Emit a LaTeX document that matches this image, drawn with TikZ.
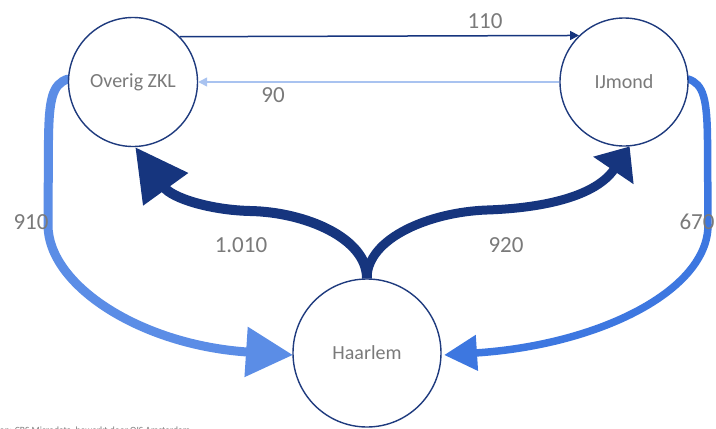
\documentclass[tikz,border=0pt]{standalone}
\usepackage{fontspec}
\setmainfont{Carlito}
\usetikzlibrary{arrows.meta}
\definecolor{navy}{HTML}{16357E}
\definecolor{ringblue}{HTML}{1F3B7E}
\definecolor{paleblue}{HTML}{A9C3F0}
\definecolor{midblue}{HTML}{5B8DE6}
\definecolor{brightblue}{HTML}{3D77E0}
\definecolor{labelgray}{HTML}{7A7A7A}
\tikzset{
  region/.style={circle, draw=ringblue, line width=1.4pt, inner sep=0pt, fill=white,
    text=labelgray, font=\fontsize{20}{24}\selectfont},
  flowlabel/.style={anchor=base, text=labelgray, inner sep=0pt, font=\fontsize{23}{27}\selectfont},
  thinflow/.style={line width=1.5pt},
}
\begin{document}
\begin{tikzpicture}[x=1pt,y=-1pt]
\useasboundingbox (0,0) rectangle (716,429);
\clip (0,0) rectangle (716,429);
\fill[white] (0,0) rectangle (716,429);

% source line (cut off at the bottom edge)
\node[anchor=base west, inner sep=0pt, text=labelgray, font=\fontsize{9.5}{11}\selectfont] (src) at (-9,433.5) {Bron: CBS Microdata, bewerkt door OIS Amsterdam};

% side flows
\draw[line width=9pt, draw=midblue, line cap=round, -{Triangle[length=47pt,width=48pt]}]
  (68,79) .. controls (52,84) and (49,100) .. (48.5,140) -- (48,225)
  .. controls (48,285) and (140,345) .. (293,355) coordinate (e910);
\draw[line width=7.5pt, draw=brightblue, line cap=round, -{Triangle[length=33pt,width=34pt]}]
  (688,79) .. controls (704,84) and (707,100) .. (707.5,140) -- (708,225)
  .. controls (708,290) and (600,345) .. (444,355) coordinate (e670);

% nodes
\node[region, minimum size=129pt] (oz) at (133,82) {Overig ZKL};
\node[region, minimum size=128pt] (ij) at (624,82) {IJmond};
\node[region, minimum size=148pt] (ha) at (367,353) {Haarlem};

% thin flows between Overig ZKL and IJmond
\draw[thinflow, draw=navy, -{Triangle[length=9pt,width=9pt]}] (oz.44) -- (ij.134);
\draw[line width=1.2pt, draw=paleblue, -{Triangle[length=9pt,width=9pt]}] (ij.180) -- (oz.0);

% big flows from Haarlem
\draw[line width=10pt, draw=navy, -{Triangle[length=52pt,width=53pt]}]
  (ha.90) .. controls (367,238) and (305,212) .. (250,211)
  .. controls (210,210) and (172,198) .. (oz.-88);
\draw[line width=9pt, draw=navy, -{Triangle[length=29pt,width=47pt]}]
  (ha.90) .. controls (367,238) and (430,212) .. (487,210)
  .. controls (545,208) and (596,196) .. (ij.-85);

% labels
\node[flowlabel] (l110) at (485,28) {110};
\node[flowlabel] (l90) at (273,102) {90};
\node[flowlabel] (l1010) at (241,252) {1.010};
\node[flowlabel] (l920) at (506,252) {920};
\node[flowlabel] (l910) at (31,229) {910};
\node[flowlabel] (l670) at (697,229) {670};
\end{tikzpicture}
\end{document}
